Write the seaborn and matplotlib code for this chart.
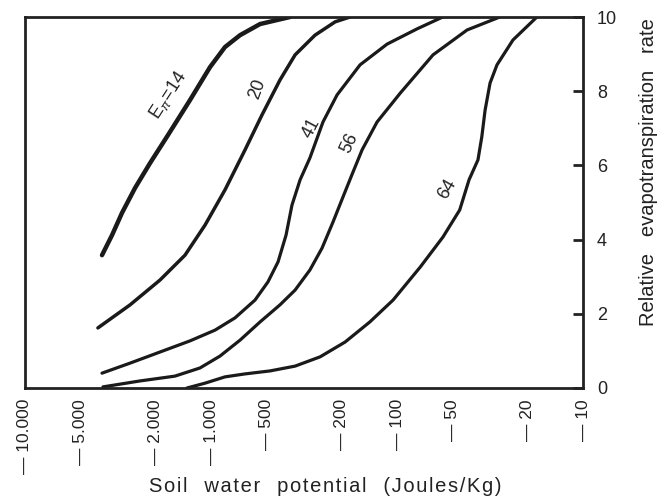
import numpy as np
import pandas as pd
import matplotlib
matplotlib.use("Agg")
import matplotlib.pyplot as plt
import seaborn as sns

# ---- data (soil water potential magnitude in J/kg, relative ET rate) ----
psi14 = [3855, 3405, 3009, 2562, 2128, 1702, 1297, 1012, 841, 698, 545, 376]
et14 = [3.58, 4.12, 4.72, 5.39, 6.06, 6.82, 7.76, 8.65, 9.19, 9.51, 9.81, 10.0]

psi20 = [4055, 2725, 1880, 1380, 1077, 841, 656, 532, 426, 353, 276, 215, 179]
et20 = [1.62, 2.24, 2.91, 3.58, 4.39, 5.34, 6.42, 7.36, 8.30, 8.98, 9.51, 9.87, 10.0]

psi41 = [3855, 2725, 1880, 1297, 951, 743, 580, 494, 436, 395, 367, 332, 294, 250,
         210, 158, 113, 78, 54]
et41 = [0.40, 0.67, 0.97, 1.27, 1.56, 1.89, 2.37, 2.86, 3.40, 4.12, 4.93, 5.61, 6.20,
        7.17, 7.90, 8.71, 9.27, 9.68, 10.05]

psi56 = [3810, 2410, 1563, 1146, 895, 698, 545, 426, 353, 294, 253, 221, 198, 175,
         154, 128, 96, 64, 42, 28]
et56 = [0.03, 0.19, 0.32, 0.54, 0.86, 1.29, 1.78, 2.24, 2.64, 3.18, 3.77, 4.47, 5.07,
        5.74, 6.42, 7.17, 7.95, 8.98, 9.65, 10.0]

psi64 = [1346, 1077, 841, 656, 482, 353, 259, 190, 140, 105, 75, 56.6, 46, 41, 36.7,
         35, 33.6, 31.6, 29, 23.8, 17.7]
et64 = [0.0, 0.13, 0.30, 0.38, 0.46, 0.59, 0.84, 1.24, 1.78, 2.37, 3.26, 4.07, 4.80,
        5.61, 6.15, 6.77, 7.49, 8.22, 8.71, 9.38, 10.0]

curve_names = ["14", "20", "41", "56", "64"]
curve_psi = [psi14, psi20, psi41, psi56, psi64]
curve_et = [et14, et20, et41, et56, et64]

x_ticks = [10000, 5000, 2000, 1000, 500, 200, 100, 50, 20, 10]
x_tick_text = ["10.000", "5.000", "2.000", "1.000", "500", "200", "100", "50", "20", "10"]
y_ticks = [0, 2, 4, 6, 8, 10]

label_texts = [r"$\mathrm{E}_{\pi}\!=\!14$", "20", "41", "56", "64"]
label_psi = [1700, 560, 290, 181, 54]
label_et = [7.9, 8.05, 7.0, 6.6, 5.35]
label_rot = [57, 70, 62, 65, 60]

# ---- build long-form table ----
rows = []
for name, ps, es in zip(curve_names, curve_psi, curve_et):
    for p, e in zip(ps, es):
        rows.append({"curve": name, "psi": p, "et": e})
df = pd.DataFrame(rows)

sns.set_style("white")
plt.rcParams["font.family"] = ["Liberation Sans", "DejaVu Sans"]
plt.rcParams["mathtext.fontset"] = "custom"
plt.rcParams["mathtext.rm"] = "Liberation Sans"
plt.rcParams["mathtext.it"] = "Liberation Sans:italic"

INK = "#222222"


def spaced(s):
    words = s.split(" ")
    return "   ".join("\u200a".join(w) for w in words)


fig = plt.figure(figsize=(6.6, 5.01), dpi=100)
ax = fig.add_axes([25 / 660, 1 - 388 / 501, (583 - 25) / 660, (388 - 17) / 501])

widths = {"14": 3.2, "20": 2.5, "41": 2.3, "56": 2.3, "64": 2.3}
for name in curve_names:
    sub = df[df["curve"] == name]
    sns.lineplot(data=sub, x="psi", y="et", ax=ax, color="#1a1a1a",
                 linewidth=widths[name], estimator=None, sort=False,
                 solid_capstyle="round", solid_joinstyle="round")

ax.set_xscale("log")
ax.set_xlim(10000, 10)
ax.set_ylim(0, 10)
ax.set_xticks(x_ticks)
ax.set_xticklabels(["\u2014 " + t for t in x_tick_text], rotation=90,
                   fontsize=12.5, color=INK)
ax.minorticks_off()
ax.set_yticks(y_ticks)
ax.set_yticklabels([str(v) for v in y_ticks], fontsize=13, color=INK)
ax.yaxis.tick_right()
ax.tick_params(axis="x", direction="in", length=6, width=2, color=INK, pad=8)
ax.tick_params(axis="y", direction="in", length=7, width=2, color=INK, pad=10,
               right=True, left=False)
ax.set_xlabel("")
ax.set_ylabel("")

for sp in ax.spines.values():
    sp.set_visible(True)
    sp.set_color(INK)
    sp.set_linewidth(2.0)

for t, p, e, r in zip(label_texts, label_psi, label_et, label_rot):
    ax.text(p, e, t, rotation=r, fontsize=13, ha="center", va="center",
            color=INK, rotation_mode="anchor")

fig.text(325 / 660, 1 - 486 / 501, spaced("Soil water potential (Joules/Kg)"),
         ha="center", va="center", fontsize=14.5, color=INK)
fig.text(648 / 660, 1 - 172 / 501, "Relative   evapotranspiration   rate",
         ha="center", va="center", rotation=90, fontsize=14.5, color=INK)

fig.savefig("out.png", dpi=100, facecolor="white")
